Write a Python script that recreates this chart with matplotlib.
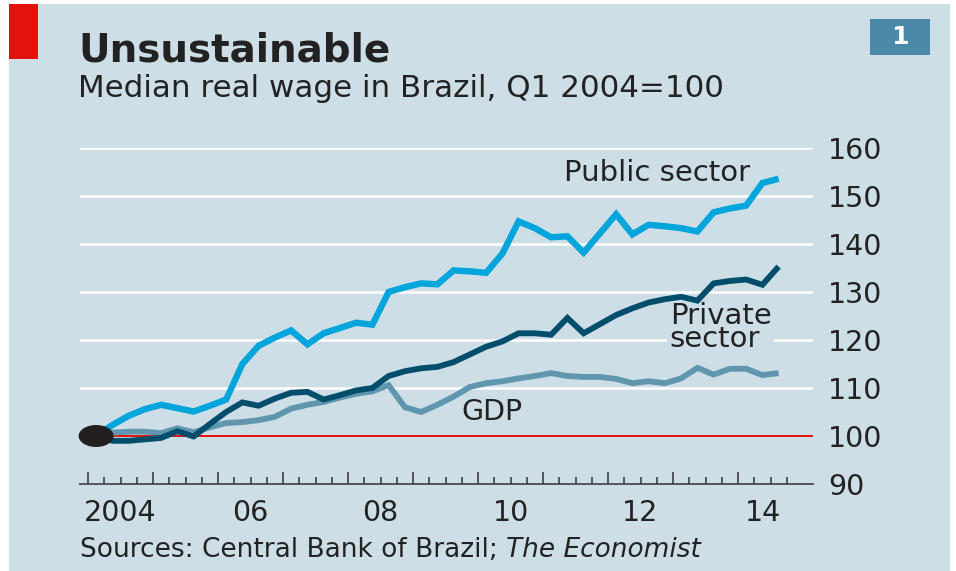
import matplotlib
matplotlib.use("Agg")
import matplotlib.pyplot as plt
from matplotlib.patches import Rectangle, Ellipse
from matplotlib.transforms import blended_transform_factory
import numpy as np

# Quarterly index values, Q1 2004 to Q3 2014 (Q1 2004 = 100)
public_sector = [100.0, 102.3, 104.2, 105.6, 106.5, 105.8, 105.1, 106.3, 107.6, 115.0,
                 118.8, 120.5, 122.0, 119.1, 121.4, 122.5, 123.6, 123.2, 130.0, 131.0,
                 131.8, 131.6, 134.5, 134.3, 134.0, 138.0, 144.7, 143.3, 141.4, 141.6,
                 138.2, 142.2, 146.2, 142.0, 144.0, 143.7, 143.3, 142.6, 146.6, 147.4,
                 148.0, 152.7, 153.6]
private_sector = [100.0, 99.0, 99.0, 99.3, 99.6, 101.0, 99.9, 102.5, 105.0, 107.0,
                  106.3, 107.8, 109.0, 109.2, 107.6, 108.5, 109.5, 110.0, 112.5, 113.5,
                  114.1, 114.4, 115.4, 117.0, 118.6, 119.7, 121.4, 121.4, 121.1, 124.6,
                  121.4, 123.3, 125.2, 126.6, 127.8, 128.5, 129.0, 128.2, 131.8, 132.3,
                  132.6, 131.5, 135.3]
gdp = [100.5, 100.7, 100.9, 100.9, 100.6, 101.6, 100.8, 101.8, 102.7, 102.9,
       103.3, 104.0, 105.7, 106.5, 107.1, 108.0, 108.8, 109.3, 110.6, 106.0,
       105.0, 106.5, 108.2, 110.2, 111.0, 111.4, 112.0, 112.5, 113.1, 112.5,
       112.3, 112.3, 111.9, 111.0, 111.4, 111.0, 112.0, 114.2, 112.8, 114.0,
       114.0, 112.7, 113.1]
start_year = 2004
year_labels = ["2004", "06", "08", "10", "12", "14"]
label_years = [2004, 2006, 2008, 2010, 2012, 2014]
y_ticks = [90, 100, 110, 120, 130, 140, 150, 160]

BG = "#cddee7"
PUBLIC = "#00a5dc"
PRIVATE = "#004e6c"
GDP_C = "#6097ae"
RED = "#e3120b"
TEXT = "#222222"
FONT = "DejaVu Sans"

W, H = 956, 571
fig = plt.figure(figsize=(W / 100, H / 100), dpi=100)
fig.patch.set_facecolor("white")

def fx(px):
    return px / W

def fy(py):
    return 1 - py / H

# Background panel, red corner tag and chart number box
fig.patches.append(Rectangle((fx(9), 0), fx(950) - fx(9), fy(4), transform=fig.transFigure,
                             facecolor=BG, edgecolor="none", zorder=-10))
fig.patches.append(Rectangle((fx(9), fy(59)), fx(38) - fx(9), fy(4) - fy(59),
                             transform=fig.transFigure, facecolor=RED, edgecolor="none", zorder=-5))
fig.patches.append(Rectangle((fx(870), fy(55)), fx(930) - fx(870), fy(19) - fy(55),
                             transform=fig.transFigure, facecolor="#4a8aa8", edgecolor="none", zorder=-5))
fig.text(fx(900), fy(37), "1", color="white", fontsize=18, fontweight="bold",
         ha="center", va="center", family=FONT)

fig.text(fx(78), fy(61), "Unsustainable", fontsize=28, fontweight="bold", color=TEXT,
         family=FONT, va="baseline", ha="left")
fig.text(fx(78), fy(97), "Median real wage in Brazil, Q1 2004=100", fontsize=22.3,
         color=TEXT, family=FONT, va="baseline", ha="left")

# Plot area
ax = fig.add_axes([fx(80), fy(484), fx(813) - fx(80), fy(148) - fy(484)])
ax.set_facecolor("none")
ax.set_xlim(start_year - 8 / 65, start_year + 725 / 65)
ax.set_ylim(90, 160)

n = len(public_sector)
x = start_year + (np.arange(n) + 0.5) / 4

for v in y_ticks:
    if v >= 110:
        ax.axhline(v, color="white", lw=1.8, zorder=1)
ax.axhline(100, color=RED, lw=1.4, zorder=1)

ax.plot(x, gdp, color=GDP_C, lw=4.2, solid_joinstyle="miter", solid_capstyle="butt", zorder=3)
ax.plot(x, private_sector, color=PRIVATE, lw=4.2, solid_joinstyle="miter", solid_capstyle="butt", zorder=4)
ax.plot(x, public_sector, color=PUBLIC, lw=4.6, solid_joinstyle="miter", solid_capstyle="butt", zorder=5)

ax.add_patch(Ellipse((x[0], 100), 35 / 65, 22 / 4.8, facecolor="#231f20",
                     edgecolor="none", zorder=6, clip_on=False))

# Axes styling
for s in ["left", "top", "right"]:
    ax.spines[s].set_visible(False)
ax.spines["bottom"].set_color("#4a4a4a")
ax.spines["bottom"].set_linewidth(1.3)
ax.set_xticks(np.arange(start_year, 2015, 1.0))
ax.set_xticks(np.arange(start_year, 2014.8, 0.25), minor=True)
ax.tick_params(axis="x", which="major", direction="in", length=9, width=1.3,
               color="#4a4a4a", labelbottom=False)
ax.tick_params(axis="x", which="minor", direction="in", length=5, width=1.3, color="#4a4a4a")

ax.yaxis.tick_right()
ax.set_yticks(y_ticks)
ax.set_yticklabels([str(v) for v in y_ticks])
ax.tick_params(axis="y", length=0, pad=11, labelsize=20.5, labelcolor=TEXT)
for lab in ax.get_yticklabels():
    lab.set_family(FONT)

tr = blended_transform_factory(ax.transData, fig.transFigure)
for yr, lab in zip(label_years, year_labels):
    xc = yr + 0.5 if yr != 2014 else yr + 0.38
    ax.text(xc, fy(513), lab, transform=tr, ha="center", va="center",
            fontsize=20.5, color=TEXT, family=FONT)

# Series labels
ax.text(2014.18, 154.8, "Public sector", ha="right", va="center", fontsize=21,
        color=TEXT, family=FONT, zorder=6)
ax.text(2012.95, 122.6, "Private\nsector", ha="left", va="center", fontsize=21,
        color=TEXT, family=FONT, linespacing=0.78, zorder=2,
        bbox=dict(facecolor=BG, edgecolor="none", pad=2))
ax.text(2009.75, 105.0, "GDP", ha="left", va="center", fontsize=20.5,
        color=TEXT, family=FONT, zorder=6)

# Sources line
src = fig.text(fx(80), fy(557), "Sources: Central Bank of Brazil; ", fontsize=19,
               color=TEXT, family=FONT, va="baseline", ha="left")
fig.canvas.draw()
bb = src.get_window_extent()
fig.text(bb.x1 / W, fy(557), "The Economist", fontsize=19, style="italic",
         color=TEXT, family=FONT, va="baseline", ha="left")

fig.savefig("out.png", dpi=100, facecolor=fig.get_facecolor())
